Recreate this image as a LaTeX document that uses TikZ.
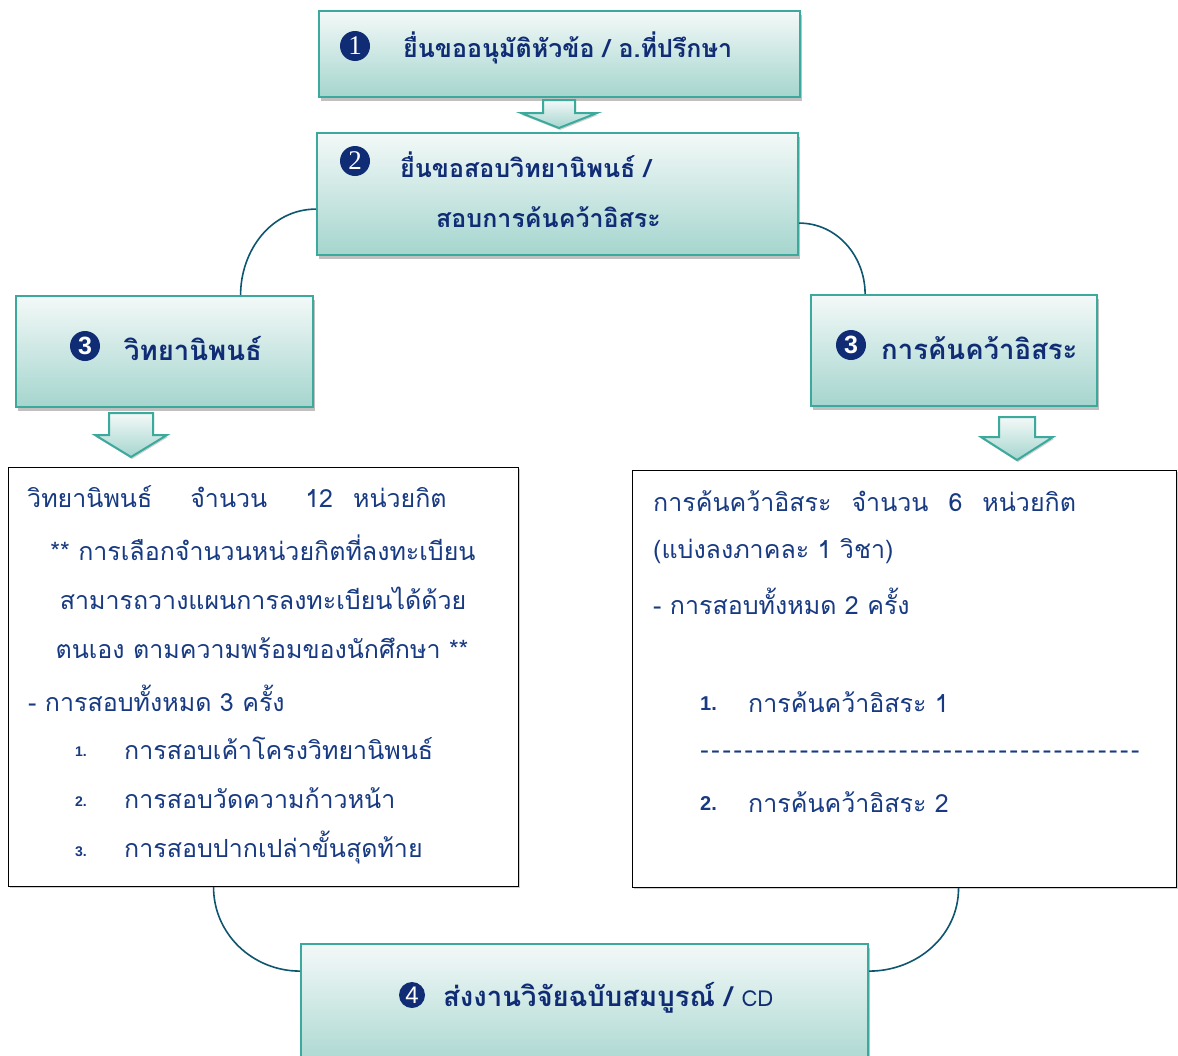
\documentclass[tikz,border=0pt]{standalone}
\usepackage{fontspec}
\setmainfont{Liberation Sans}
\newfontfamily\thai[Script=Thai]{Loma}
\newfontfamily\serifd{Liberation Serif}
\usetikzlibrary{shadows}
\definecolor{navy}{HTML}{0F2C74}
\definecolor{bodyc}{HTML}{173A82}
\definecolor{tealb}{HTML}{3BAA9D}
\definecolor{tealtop}{HTML}{F3F9F8}
\definecolor{tealbot}{HTML}{A5D5CE}
\definecolor{conn}{HTML}{0E5670}
\tikzset{
  stepbox/.style={draw=tealb, line width=2.2pt, top color=tealtop, bottom color=tealbot,
    drop shadow={shadow xshift=2pt, shadow yshift=-4pt, opacity=0.35, fill=black!70}, inner sep=0pt},
  textbox/.style={draw=black, line width=1.1pt, fill=white,
    drop shadow={shadow xshift=1.5pt, shadow yshift=-1.5pt, opacity=0.3, fill=black!60}, inner sep=0pt},
  numc/.style={circle, fill=navy, text=white, inner sep=0pt, minimum size=#1},
  hd/.style={text=navy, font=\thai\bfseries\fontsize{25}{30}\selectfont, inner sep=0pt},
  hdbig/.style={hd, font=\thai\bfseries\fontsize{27.5}{32}\selectfont},
  bt/.style={text=bodyc, font=\thai\fontsize{25}{30}\selectfont, inner sep=0pt},
  conline/.style={draw=conn, line width=1.6pt},
  arrowst/.style={draw=tealb, line width=2pt, top color=tealtop, bottom color=tealbot,
    drop shadow={shadow xshift=1pt, shadow yshift=-2pt, opacity=0.3, fill=black!60}},
  pics/barrow/.style n args={4}{code={
    \path[arrowst] (-#1,0) -- (#1,0) -- (#1,#3) -- (#2,#3) -- (0,#4) -- (-#2,#3) -- (-#1,#3) -- cycle;
  }}
}
\begin{document}
\begin{tikzpicture}[x=1pt,y=-1pt]
\useasboundingbox (0,0) rectangle (1178,1055);
\clip (0,0) rectangle (1178,1055);
\fill[white] (0,0) rectangle (1178,1055);

% step boxes
\node[stepbox, minimum width=481pt, minimum height=86pt, anchor=north west] (b1) at (318,10) {};
\node[stepbox, minimum width=481pt, minimum height=122pt, anchor=north west] (b2) at (316,132) {};
\node[stepbox, minimum width=297pt, minimum height=111pt, anchor=north west] (b3l) at (15,295) {};
\node[stepbox, minimum width=286pt, minimum height=111pt, anchor=north west] (b3r) at (810,294) {};
\node[stepbox, minimum width=567pt, minimum height=130pt, anchor=north west] (b4) at (300,943) {};

% text boxes
\node[textbox, minimum width=510pt, minimum height=419pt, anchor=north west] (tl) at (8,467) {};
\node[textbox, minimum width=544pt, minimum height=417pt, anchor=north west] (tr) at (632,470) {};

% block arrows
\pic at (559,100) {barrow={16}{38}{13}{28}};
\pic at (131,413) {barrow={22}{36}{22}{44}};
\pic at (1017,417) {barrow={18}{36}{20}{43}};

% connectors
\draw[conline] ([yshift=-15pt]b2.west) to[out=180,in=90] ([xshift=76pt]b3l.north);
\draw[conline] ([yshift=-29pt]b2.east) to[out=0,in=90] ([xshift=-89pt]b3r.north);
\draw[conline] ([xshift=-50pt]tl.south) to[out=-90,in=180] ([yshift=38pt]b4.west);
\draw[conline] ([xshift=54pt]tr.south) to[out=-90,in=0] ([yshift=38pt]b4.east);

% step box labels
\node[numc=30pt] (n1) at (355,46) {\serifd\fontsize{27}{27}\selectfont 1};
\node[hd, anchor=west] (t1) at (403,48) {ยื่นขออนุมัติหัวข้อ / อ.ที่ปรึกษา};
\node[numc=30pt] (n2) at (355,161) {\serifd\fontsize{27}{27}\selectfont 2};
\node[hd, anchor=west] (t2a) at (400,165) {ยื่นขอสอบวิทยานิพนธ์ /};
\node[hd, anchor=west] (t2b) at (436,217) {สอบการค้นคว้าอิสระ};
\node[numc=30pt] (n3l) at (85,346) {\bfseries\fontsize{25}{25}\selectfont 3};
\node[hdbig, anchor=west] (t3l) at (124,348) {วิทยานิพนธ์};
\node[numc=30pt] (n3r) at (851,345) {\bfseries\fontsize{25}{25}\selectfont 3};
\node[hdbig, anchor=west] (t3r) at (881,348) {การค้นคว้าอิสระ};
\node[numc=26pt] (n4) at (412,995) {\fontsize{24}{24}\selectfont 4};
\node[hdbig, anchor=west] (t4) at (443,998) {ส่งงานวิจัยฉบับสมบูรณ์ / {\mdseries\fontsize{22}{22}\selectfont CD}};

% left text box
\node[bt, anchor=west] (l1) at (27,497) {วิทยานิพนธ์\hspace{38pt}จำนวน\hspace{38pt}12\hspace{20pt}หน่วยกิต};
\node[bt] (l2) at (263,548) {** การเลือกจำนวนหน่วยกิตที่ลงทะเบียน};
\node[bt] (l3) at (263,598) {สามารถวางแผนการลงทะเบียนได้ด้วย};
\node[bt] (l4) at (262,648) {ตนเอง ตามความพร้อมของนักศึกษา **};
\node[bt, anchor=west] (l5) at (28,698) {- การสอบทั้งหมด 3 ครั้ง};
\node[bt, anchor=west, font=\bfseries\fontsize{14}{14}\selectfont] (l6n) at (75,752) {1.};
\node[bt, anchor=west] (l6) at (124,748) {การสอบเค้าโครงวิทยานิพนธ์};
\node[bt, anchor=west, font=\bfseries\fontsize{14}{14}\selectfont] (l7n) at (75,802) {2.};
\node[bt, anchor=west] (l7) at (124,798) {การสอบวัดความก้าวหน้า};
\node[bt, anchor=west, font=\bfseries\fontsize{14}{14}\selectfont] (l8n) at (75,852) {3.};
\node[bt, anchor=west] (l8) at (124,848) {การสอบปากเปล่าขั้นสุดท้าย};

% right text box
\node[bt, anchor=west] (r1) at (653,501) {การค้นคว้าอิสระ\hspace{20pt}จำนวน\hspace{20pt}6\hspace{20pt}หน่วยกิต};
\node[bt, anchor=west] (r2) at (653,551) {(แบ่งลงภาคละ 1 วิชา)};
\node[bt, anchor=west] (r3) at (653,601) {- การสอบทั้งหมด 2 ครั้ง};
\node[bt, anchor=west, font=\bfseries\fontsize{20}{20}\selectfont] (r4n) at (700,704) {1.};
\node[bt, anchor=west] (r4) at (748,702) {การค้นคว้าอิสระ 1};
\node[bt, anchor=west] (r5) at (700,755) {\makebox[442pt][l]{\xleaders\hbox{-\kern2.5pt}\hfill}};
\node[bt, anchor=west, font=\bfseries\fontsize{20}{20}\selectfont] (r6n) at (700,804) {2.};
\node[bt, anchor=west] (r6) at (748,802) {การค้นคว้าอิสระ 2};
\end{tikzpicture}
\end{document}
